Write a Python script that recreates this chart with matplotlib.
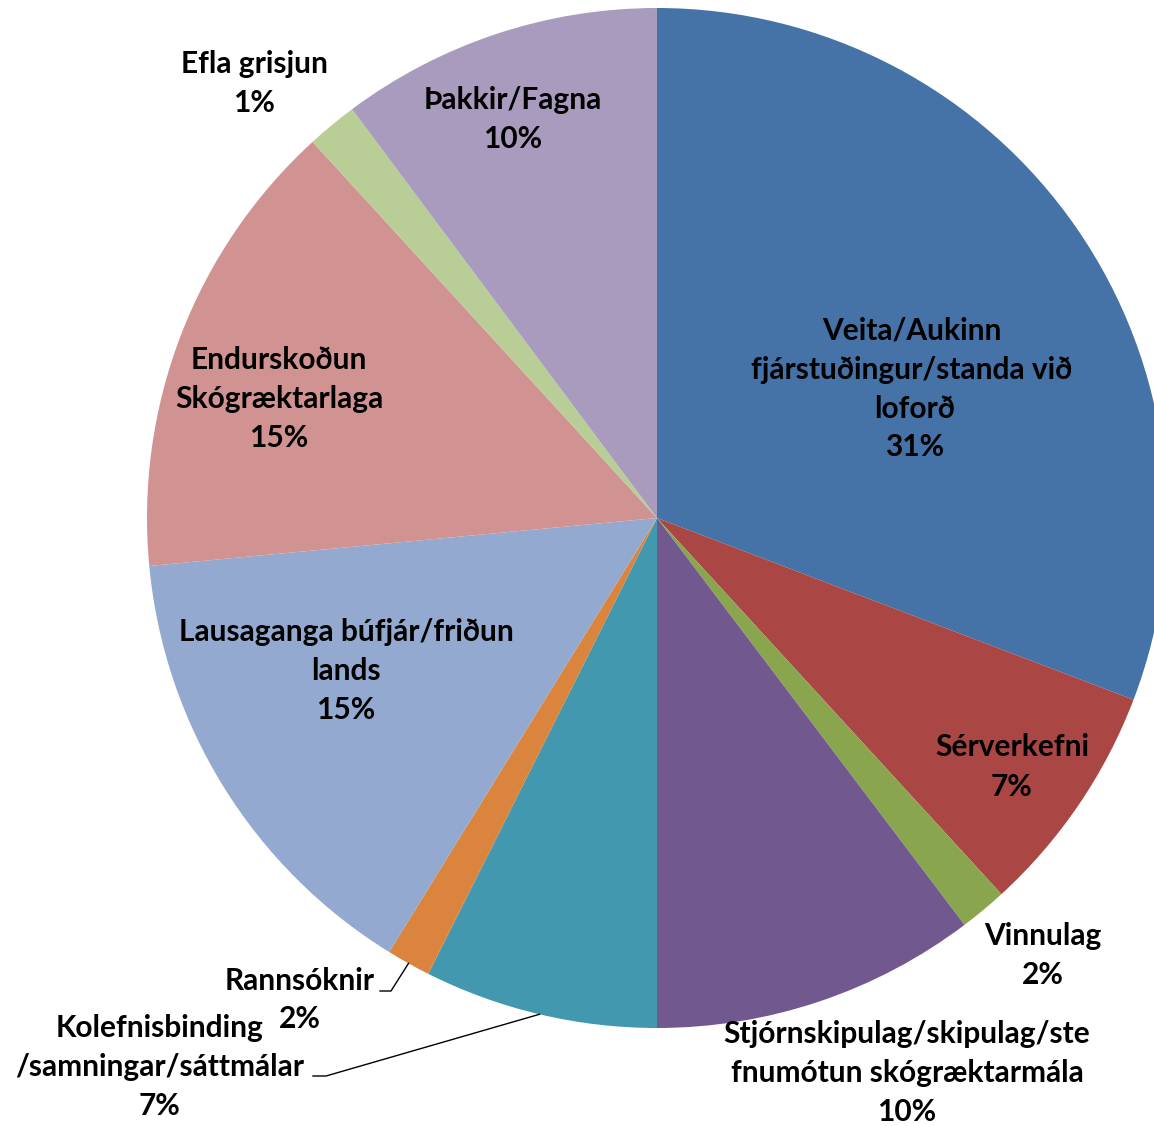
import numpy as np
import matplotlib.pyplot as plt

labels = ['Veita/Aukinn \nfjárstuðingur/standa við \nloforð',
          'Sérverkefni',
          'Vinnulag',
          'Stjórnskipulag/skipulag/ste\nfnumótun skógræktarmála',
          'Kolefnisbinding\n/samningar/sáttmálar',
          'Rannsóknir',
          'Lausaganga búfjár/friðun\nlands',
          'Endurskoðun\nSkógræktarlaga',
          'Efla grisjun',
          'Þakkir/Fagna']
values = [30.8, 7.4, 1.5, 10.3, 7.4, 1.4, 14.7, 14.7, 1.6, 10.2]
pct_text = ['31%', '7%', '2%', '10%', '7%', '2%', '15%', '15%', '1%', '10%']
colors = ['#4572A7', '#AA4643', '#89A54E', '#71588F', '#4198AF',
          '#DB843D', '#93A9CF', '#D19392', '#B9CD96', '#A99BBD']

W, H = 1154, 1126
fig = plt.figure(figsize=(W / 100, H / 100), dpi=100)
ax = fig.add_axes([0, 0, 1, 1])

cx, cy, R = 657, H - 518, 510
wedges, _ = ax.pie(values, colors=colors, startangle=90, counterclock=False,
                   radius=R, center=(cx, cy), frame=True,
                   wedgeprops=dict(edgecolor='none', linewidth=0))
ax.set_xlim(0, W)
ax.set_ylim(0, H)
ax.set_aspect('equal')
ax.axis('off')

# label centres in image pixels (x, y from top); each line drawn on its own
label_pos = [(915, 389), (1012, 767), (1043, 956), (907, 1073), (160, 1067),
             (300, 1000), (346, 671), (279, 399), (254, 83), (513, 120)]
line_h = 39
font = dict(family=['Lato', 'DejaVu Sans'], fontweight='bold', fontsize=21.5,
            color='black', ha='center', va='center')
for lab, pct, (x, y) in zip(labels, pct_text, label_pos):
    rows = (lab + '\n' + pct).split('\n')
    n = len(rows)
    for i, row in enumerate(rows):
        yy = y + (i - (n - 1) / 2) * line_h
        ax.text(x, H - yy, row, **font)

# leader lines for the two small labels near the bottom left
def edge_point(w):
    mid = np.deg2rad((w.theta1 + w.theta2) / 2)
    return w.center[0] + w.r * np.cos(mid), w.center[1] + w.r * np.sin(mid)

ex, ey = edge_point(wedges[4])
ax.plot([313, 326, ex], [H - 1076, H - 1076, ey], color='black', lw=1)
ex, ey = edge_point(wedges[5])
ax.plot([380, 391, ex], [H - 991, H - 991, ey], color='black', lw=1)

fig.savefig('out.png', dpi=100)
